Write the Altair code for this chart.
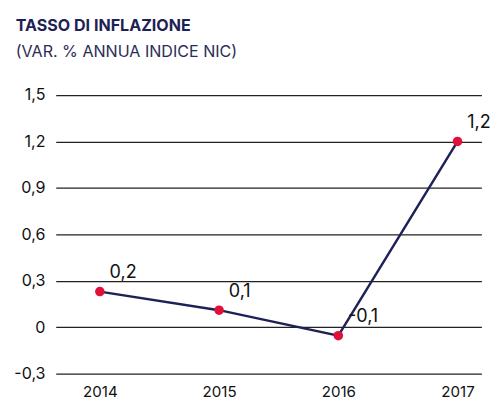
import altair as alt
import pandas as pd

years = [2014, 2015, 2016, 2017]
values = [0.23, 0.11, -0.055, 1.2]
y_ticks = [-0.3, 0, 0.3, 0.6, 0.9, 1.2, 1.5]

df = pd.DataFrame({"anno": years, "valore": values})

FONT = "Inter"
NAVY = "#1e2156"
RED = "#e0103a"

fmt = "replace(replace(format({v}, '.1f'), '.', ','), '\u2212', '-')"

x = alt.X("anno:Q",
          scale=alt.Scale(domain=[2013.63, 2017.2], nice=False, zero=False),
          axis=alt.Axis(values=years, format="d", title=None, grid=False, domain=False,
                        ticks=False, labelFontSize=15.5, labelColor="#111111",
                        labelPadding=12, labelFont=FONT))
y = alt.Y("valore:Q",
          scale=alt.Scale(domain=[-0.3, 1.5], nice=False, zero=False),
          axis=alt.Axis(values=y_ticks, title=None, domain=False, ticks=False,
                        grid=True, gridColor="#222222", gridWidth=1.3, gridOpacity=1,
                        labelFontSize=16.5, labelColor="#111111", labelPadding=11,
                        labelFont=FONT,
                        labelExpr="datum.value == 0 ? '0' : " + fmt.format(v="datum.value")))

base = alt.Chart(df).encode(x=x, y=y)

line = base.mark_line(color=NAVY, strokeWidth=2.5)
points = base.mark_circle(color=RED, size=95, opacity=1)
labels = base.mark_text(align="left", baseline="bottom", dx=10, dy=-10, fontSize=18.5,
                        font=FONT, color="#111111").encode(
    text=alt.Text("lbl:N")
).transform_calculate(lbl=fmt.format(v="datum.valore"))

chart = (line + points + labels).properties(
    width=437, height=286,
    title=alt.TitleParams(
        text="TASSO DI INFLAZIONE",
        subtitle="(VAR. % ANNUA INDICE NIC)",
        anchor="start", frame="bounds", font=FONT, fontSize=16.5, fontWeight="bold",
        color=NAVY, subtitleFont=FONT, subtitleFontSize=16.5, subtitleColor="#2c2d55",
        subtitlePadding=10, offset=28, dx=2,
    ),
).configure_view(stroke=None)

chart.save("out.html", embed_options={"renderer": "svg", "actions": False})
